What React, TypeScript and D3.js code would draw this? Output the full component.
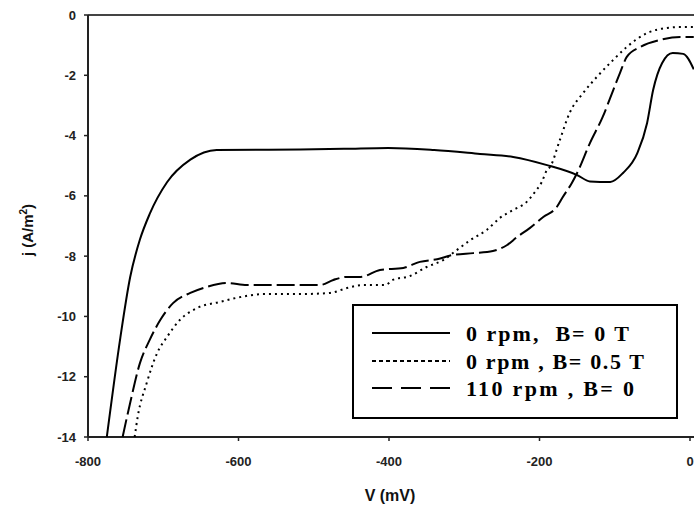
import React from "react";
import * as d3 from "d3";

// Series: V (mV), j (A/m^2)
const solidV = [-775, -757, -744, -731, -718, -695, -664, -629, -560, -518, -460, -401, -340, -279, -235, -190, -150, -133, -106, -89, -70, -57, -49, -37, -23, -9, 5];
const solidJ = [-14, -10.7, -8.7, -7.45, -6.6, -5.55, -4.8, -4.48, -4.47, -4.46, -4.44, -4.41, -4.48, -4.61, -4.71, -4.98, -5.31, -5.52, -5.54, -5.24, -4.58, -3.58, -2.49, -1.59, -1.26, -1.29, -1.8];

const dottedV = [-738, -734, -722, -708, -695, -678, -655, -625, -598, -567, -522, -478, -456, -435, -405, -395, -372, -350, -328, -310, -292, -270, -253, -235, -217, -206, -197, -190, -186, -173, -160, -142, -124, -102, -84, -57, -31, -13, 5];
const dottedJ = [-14, -13.34, -12.21, -11.21, -10.68, -10.12, -9.72, -9.52, -9.36, -9.26, -9.26, -9.22, -9.06, -8.96, -8.96, -8.79, -8.66, -8.36, -8.13, -7.8, -7.47, -7.13, -6.74, -6.47, -6.2, -5.87, -5.54, -5.14, -5.04, -4.15, -3.25, -2.59, -2.06, -1.49, -1.06, -0.6, -0.43, -0.4, -0.4];

const dashedV = [-754, -744, -731, -718, -704, -687, -664, -642, -615, -589, -545, -492, -474, -456, -438, -412, -381, -359, -336, -315, -288, -262, -243, -230, -213, -195, -177, -169, -157, -150, -133, -116, -102, -93, -84, -66, -40, -13, 5];
const dashedJ = [-14, -12.87, -11.55, -10.78, -10.12, -9.56, -9.22, -9.02, -8.89, -8.96, -8.96, -8.96, -8.79, -8.69, -8.69, -8.46, -8.39, -8.19, -8.1, -7.96, -7.9, -7.83, -7.63, -7.37, -7.07, -6.7, -6.37, -6.04, -5.57, -5.24, -4.25, -3.38, -2.49, -1.92, -1.39, -1.06, -0.83, -0.73, -0.73];

const xTicks = [-800, -600, -400, -200, 0];
const yTicks = [0, -2, -4, -6, -8, -10, -12, -14];
const legendLabels = ["0 rpm,  B= 0 T", "0 rpm , B= 0.5 T", "110 rpm , B= 0"];
const xTitle = "V (mV)";

const W = 694;
const H = 512;
const L = 88, R = 690, T = 15, B = 437;

export default function App() {
  const x = d3.scaleLinear().domain([-800, 0]).range([L, R]);
  const y = d3.scaleLinear().domain([-14, 0]).range([B, T]);
  const line = d3
    .line<[number, number]>()
    .x((d) => x(d[0]))
    .y((d) => y(d[1]))
    .curve(d3.curveMonotoneX);

  const series = [
    { v: solidV, j: solidJ, dash: undefined as string | undefined, legDash: undefined as string | undefined },
    { v: dottedV, j: dottedJ, dash: "2,4", legDash: "4,3" },
    { v: dashedV, j: dashedJ, dash: "18,5", legDash: "20,9" },
  ];

  const legX = 353, legY = 305, legW = 324, legH = 113;
  const legRows = [333, 361, 388];
  const legTextW = [163, 178, 168];

  return (
    <svg width={W} height={H} style={{ position: "absolute", left: 0, top: 0, background: "#fff" }}>
      <rect x={0} y={0} width={W} height={H} fill="#fff" />
      {/* frame */}
      <line x1={L} y1={T} x2={W} y2={T} stroke="#444" strokeWidth={2} />
      <line x1={L} y1={B} x2={W} y2={B} stroke="#222" strokeWidth={2} />
      <line x1={L} y1={T} x2={L} y2={B} stroke="#222" strokeWidth={2} />
      {/* y ticks */}
      {yTicks.map((t) => (
        <g key={"y" + t}>
          <line x1={L - 4} x2={L} y1={y(t)} y2={y(t)} stroke="#222" strokeWidth={1.5} />
          <text x={L - 12} y={y(t)} dy="0.35em" textAnchor="end" fontFamily="Liberation Sans, Arial" fontWeight="bold" fontSize={13} fill="#222">
            {t}
          </text>
        </g>
      ))}
      {/* x ticks */}
      {xTicks.map((t) => (
        <g key={"x" + t}>
          <line x1={x(t)} x2={x(t)} y1={B} y2={B + 4} stroke="#222" strokeWidth={1.5} />
          <text x={x(t)} y={B + 29} textAnchor="middle" fontFamily="Liberation Sans, Arial" fontWeight="bold" fontSize={13} fill="#222">
            {t}
          </text>
        </g>
      ))}
      <text x={390} y={501} textAnchor="middle" fontFamily="Liberation Sans, Arial" fontWeight="bold" fontSize={16} fill="#111">
        {xTitle}
      </text>
      <text transform="translate(33,230) rotate(-90)" textAnchor="middle" fontFamily="Liberation Sans, Arial" fontWeight="bold" fontSize={15} fill="#111">
        j (A/m<tspan dy={-6} fontSize={10}>2</tspan><tspan dy={6}>)</tspan>
      </text>
      {/* curves */}
      {series.map((s, i) => (
        <path
          key={i}
          d={line(s.v.map((v, k) => [v, s.j[k]] as [number, number])) || ""}
          fill="none"
          stroke="#000"
          strokeWidth={2}
          strokeDasharray={s.dash}
        />
      ))}
      {/* legend */}
      <rect x={legX} y={legY} width={legW} height={legH} fill="#fff" stroke="#000" strokeWidth={2} />
      {series.map((s, i) => (
        <g key={"l" + i}>
          <line x1={372} x2={450} y1={legRows[i]} y2={legRows[i]} stroke="#000" strokeWidth={2} strokeDasharray={s.legDash} />
          <text
            x={466}
            y={legRows[i]}
            dy="0.35em"
            fontFamily="Liberation Serif, Times New Roman, serif"
            fontWeight="bold"
            fontSize={22}
            textLength={legTextW[i]}
            lengthAdjust="spacing"
            fill="#000"
            style={{ whiteSpace: "pre" }}
          >
            {legendLabels[i]}
          </text>
        </g>
      ))}
    </svg>
  );
}
